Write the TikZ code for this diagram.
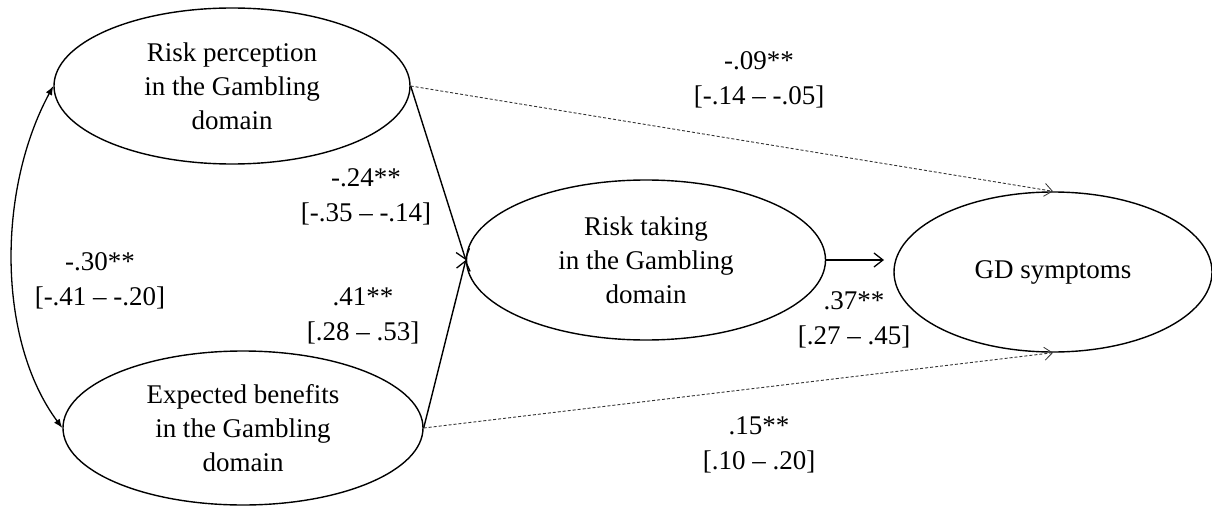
\documentclass[tikz,border=0pt]{standalone}
\usepackage{fontspec}
\setmainfont{Liberation Serif}
\usetikzlibrary{shapes.geometric,arrows.meta}
\begin{document}
\begin{tikzpicture}[x=1pt,y=-1pt,
  latent/.style={ellipse,draw,line width=1.4pt,inner sep=0pt,align=center,
    font=\fontsize{27}{34}\selectfont},
  lbl/.style={align=center,font=\fontsize{27}{35}\selectfont,inner sep=0pt},
  solidarrow/.style={line width=1.4pt,-{Straight Barb[length=9pt,width=14pt,line width=1.3pt]}},
  dasharrow/.style={line width=0.9pt,draw=black!80,dash pattern=on 3pt off 2pt,
    -{Straight Barb[length=8pt,width=13pt,line width=0.8pt]}},
  corr/.style={line width=1.3pt,{Latex[length=9pt,width=7pt]}-{Latex[length=9pt,width=7pt]}}]
\useasboundingbox (0,0) rectangle (1212,508);
\node[latent,minimum width=356pt,minimum height=156pt] (rp) at (232,86)
  {Risk perception\\in the Gambling\\domain};
\node[latent,minimum width=360pt,minimum height=154pt] (eb) at (243,428)
  {Expected benefits\\in the Gambling\\domain};
\node[latent,minimum width=359pt,minimum height=160pt] (rt) at (646,260)
  {Risk taking\\in the Gambling\\domain};
\node[latent,minimum width=318pt,minimum height=160pt] (gd) at (1053,272)
  {GD symptoms};
\coordinate (gdin) at (884,260);
\coordinate (c1) at (-3,190);
\coordinate (c2) at (-3,340);
\draw[solidarrow] (rp.east) -- (rt.west);
\draw[solidarrow] (eb.east) -- (rt.west);
\draw[solidarrow] (rt.east) -- (gdin);
\draw[dasharrow] (rp.east) -- (gd.north);
\draw[dasharrow] (eb.east) -- (gd.south);
\draw[corr] (rp.west) .. controls (c1) and (c2) .. (eb.west);
\node[lbl] (l1) at (759,80) {-.09**\\{}[-.14 – -.05]};
\node[lbl] (l2) at (366,197) {-.24**\\{}[-.35 – -.14]};
\node[lbl] (l3) at (100,281) {-.30**\\{}[-.41 – -.20]};
\node[lbl] (l4) at (363,316) {.41**\\{}[.28 – .53]};
\node[lbl] (l5) at (854,320) {.37**\\{}[.27 – .45]};
\node[lbl] (l6) at (759,445) {.15**\\{}[.10 – .20]};
\end{tikzpicture}
\end{document}
